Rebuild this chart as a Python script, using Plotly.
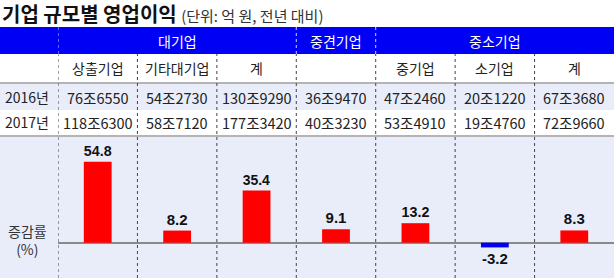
import plotly.graph_objects as go

# ---- data ----
col_labels = ["상출기업", "기타대기업", "계", "", "중기업", "소기업", "계"]
group_labels = ["대기업", "중견기업", "중소기업"]
group_spans = [(0, 2), (3, 3), (4, 6)]
row_labels = ["2016년", "2017년"]
values_2016 = ["76조6550", "54조2730", "130조9290", "36조9470", "47조2460", "20조1220", "67조3680"]
values_2017 = ["118조6300", "58조7120", "177조3420", "40조3230", "53조4910", "19조4760", "72조9660"]
growth = [54.8, 8.2, 35.4, 9.1, 13.2, -3.2, 8.3]
title = "기업 규모별 영업이익"
subtitle = "(단위: 억 원, 전년 대비)"
y_label = "증감률<br>(%)"

W, H = 614, 278
def py(p):
    return 1 - p / H

KFONT = "Noto Sans CJK KR, Noto Sans, sans-serif"
BLUE = "#0000F5"
LIGHT = "#E9EDFA"
RED = "#FF0000"

xs = list(range(len(growth)))
colors = [RED if v >= 0 else BLUE for v in growth]

fig = go.Figure()
fig.add_trace(go.Bar(
    x=xs, y=growth, width=0.35,
    marker=dict(color=colors, line=dict(width=0)),
    text=[f"{v:.1f}" for v in growth], textposition="outside",
    textfont=dict(family="Liberation Sans Narrow, Arial Narrow, Liberation Sans, sans-serif",
                  size=15, color="#111"),
    texttemplate="<b>%{text}</b>",
    cliponaxis=False, hoverinfo="skip",
))

shapes = []
def rect(y0, y1, color, x0=0, x1=1):
    shapes.append(dict(type="rect", xref="paper", yref="paper", x0=x0, x1=x1,
                       y0=py(y1), y1=py(y0), fillcolor=color, line=dict(width=0), layer="below"))
rect(27, 54, BLUE)
rect(54, 82, "white")
rect(84, 110, LIGHT)
rect(110, 135, "white")
rect(137, 278, LIGHT)
rect(82, 84, "#B4B4B4")
rect(135, 137, "#B4B4B4")

for b in [-0.5, 0.5, 1.5, 2.5, 3.5, 4.5, 5.5]:
    shapes.append(dict(type="line", xref="x", yref="paper", x0=b, x1=b,
                       y0=0, y1=py(54), line=dict(color="#444", width=1, dash="dot"), layer="above"))
for b in [-0.5, 2.5, 3.5]:
    shapes.append(dict(type="line", xref="x", yref="paper", x0=b, x1=b,
                       y0=py(54), y1=py(27), line=dict(color="#C8D0FF", width=1, dash="dot"), layer="above"))

ann = []
ann.append(dict(xref="paper", yref="paper", x=0, y=py(13), xanchor="left", yanchor="middle",
                showarrow=False,
                text=f"<b>{title}</b> <span style='font-size:15px;color:#333'>{subtitle}</span>",
                font=dict(family=KFONT, size=20, color="#111")))
for g, (a, b) in zip(group_labels, group_spans):
    ann.append(dict(xref="x", yref="paper", x=(a + b) / 2, y=py(41), showarrow=False,
                    text=g, font=dict(family=KFONT, size=14, color="white"),
                    xanchor="center", yanchor="middle"))
for i, c in enumerate(col_labels):
    if c:
        ann.append(dict(xref="x", yref="paper", x=i, y=py(68), showarrow=False, text=c,
                        font=dict(family=KFONT, size=14, color="#222"),
                        xanchor="center", yanchor="middle"))
for r, (lab, vals, yc) in enumerate(zip(row_labels, [values_2016, values_2017], [97, 122.5])):
    ann.append(dict(xref="paper", yref="paper", x=27 / W, y=py(yc), showarrow=False, text=lab,
                    font=dict(family=KFONT, size=14, color="#222"),
                    xanchor="center", yanchor="middle"))
    for i, v in enumerate(vals):
        ann.append(dict(xref="x", yref="paper", x=i, y=py(yc), showarrow=False, text=v,
                        font=dict(family=KFONT, size=14.5, color="#222"),
                        xanchor="center", yanchor="middle"))
ann.append(dict(xref="paper", yref="paper", x=27 / W, y=py(240), showarrow=False, text=y_label,
                font=dict(family=KFONT, size=14, color="#333"),
                xanchor="center", yanchor="middle"))

zero_px = 242.7
scale = 81 / 54.8
fig.update_layout(
    width=W, height=H, margin=dict(l=0, r=0, t=0, b=0),
    paper_bgcolor="white", plot_bgcolor="rgba(0,0,0,0)",
    showlegend=False, shapes=shapes, annotations=ann,
    xaxis=dict(domain=[58 / W, 1], range=[-0.5, 6.5], visible=False, fixedrange=True),
    yaxis=dict(domain=[0, py(137)], range=[-(H - zero_px) / scale, (zero_px - 137) / scale],
               showgrid=False, showticklabels=False, zeroline=True,
               zerolinecolor="#8A8A8A", zerolinewidth=2, fixedrange=True),
)
fig.write_html("out.html")
